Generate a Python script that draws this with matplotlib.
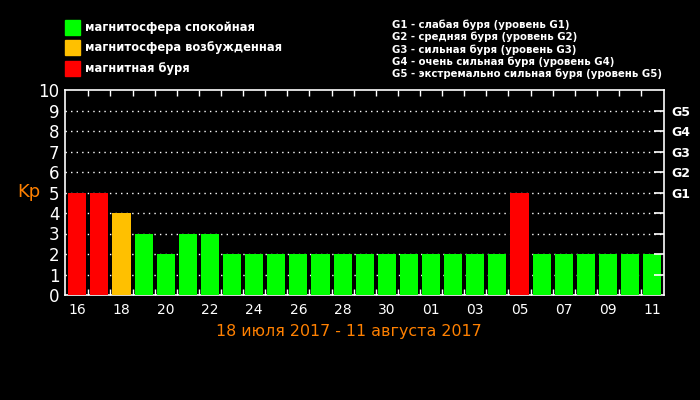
import matplotlib.pyplot as plt
from matplotlib.patches import Rectangle
import numpy as np

days = ['16', '17', '18', '19', '20', '21', '22', '23', '24', '25', '26', '27', '28', '29',
        '30', '31', '01', '02', '03', '04', '05', '06', '07', '08', '09', '10', '11']
kp = [5, 5, 4, 3, 2, 3, 3, 2, 2, 2, 2, 2, 2, 2, 2, 2, 2, 2, 2, 2, 5, 2, 2, 2, 2, 2, 2]
g_labels = ['G1', 'G2', 'G3', 'G4', 'G5']
g_levels = [5, 6, 7, 8, 9]
legend_labels = ['магнитосфера спокойная', 'магнитосфера возбужденная', 'магнитная буря']
legend_colors = ['#00ff00', '#ffc000', '#ff0000']
g_text = ['G1 - слабая буря (уровень G1)',
          'G2 - средняя буря (уровень G2)',
          'G3 - сильная буря (уровень G3)',
          'G4 - очень сильная буря (уровень G4)',
          'G5 - экстремально сильная буря (уровень G5)']

def bar_color(v):
    if v >= 5:
        return '#ff0000'
    if v == 4:
        return '#ffc000'
    return '#00ff00'

fig = plt.figure(figsize=(7, 4), dpi=100, facecolor='black')
ax = fig.add_axes([0.093, 0.2625, 0.856, 0.5125], facecolor='black')

x = np.arange(len(kp))
ax.bar(x, kp, width=0.82, color=[bar_color(v) for v in kp], zorder=3)

ax.set_xlim(-0.55, len(kp) - 0.45)
ax.set_ylim(0, 10)

for s in ['left', 'right', 'top', 'bottom']:
    ax.spines[s].set_color('white')
    ax.spines[s].set_linewidth(1.2)

# dotted grid
for g in range(1, 10):
    ax.axhline(g, color='white', linestyle=(0, (1, 3)), linewidth=1, zorder=1)

ax.set_xticks(x[::2])
ax.set_xticklabels(days[::2], color='white', fontsize=10)
ax.set_xticks(x[:-1] + 0.5, minor=True)
ax.tick_params(axis='x', which='major', length=0, pad=6)
ax.tick_params(axis='x', which='minor', direction='in', length=4, color='white',
               top=True, bottom=True, width=1)

ax.set_yticks(range(0, 11))
ax.set_yticklabels([str(i) for i in range(0, 11)], color='white', fontsize=12)
ax.tick_params(axis='y', which='major', length=0, pad=4)

ax2 = ax.twinx()
ax2.set_ylim(0, 10)
ax2.set_yticks(range(1, 10))
ax2.set_yticklabels(['' if i not in g_levels else g_labels[g_levels.index(i)]
                     for i in range(1, 10)], color='white', fontsize=9, fontweight='bold')
ax2.tick_params(axis='y', direction='in', length=7, color='white', width=1.2, pad=5)
for s in ax2.spines.values():
    s.set_visible(False)

fig.text(0.025, 0.52, 'Kp', color='#ff8000', fontsize=13, va='center', ha='left')
fig.text(0.499, 0.172, '18 июля 2017 - 11 августа 2017', color='#ff8000', fontsize=11.4,
         ha='center', va='center')

for i, (lab, col) in enumerate(zip(legend_labels, legend_colors)):
    yc = 1 - (27.5 + i * 20.3) / 400
    fig.patches.append(Rectangle((65 / 700, yc - 7.5 / 400), 15 / 700, 15 / 400,
                                 transform=fig.transFigure, color=col))
    fig.text(85 / 700, yc, lab, color='white', fontsize=8.3, fontweight='bold', va='center')

for i, t in enumerate(g_text):
    fig.text(392 / 700, 1 - (25 + i * 12.2) / 400, t, color='white', fontsize=7.3,
             fontweight='bold', va='center')

fig.savefig('out.png', dpi=100, facecolor='black')
